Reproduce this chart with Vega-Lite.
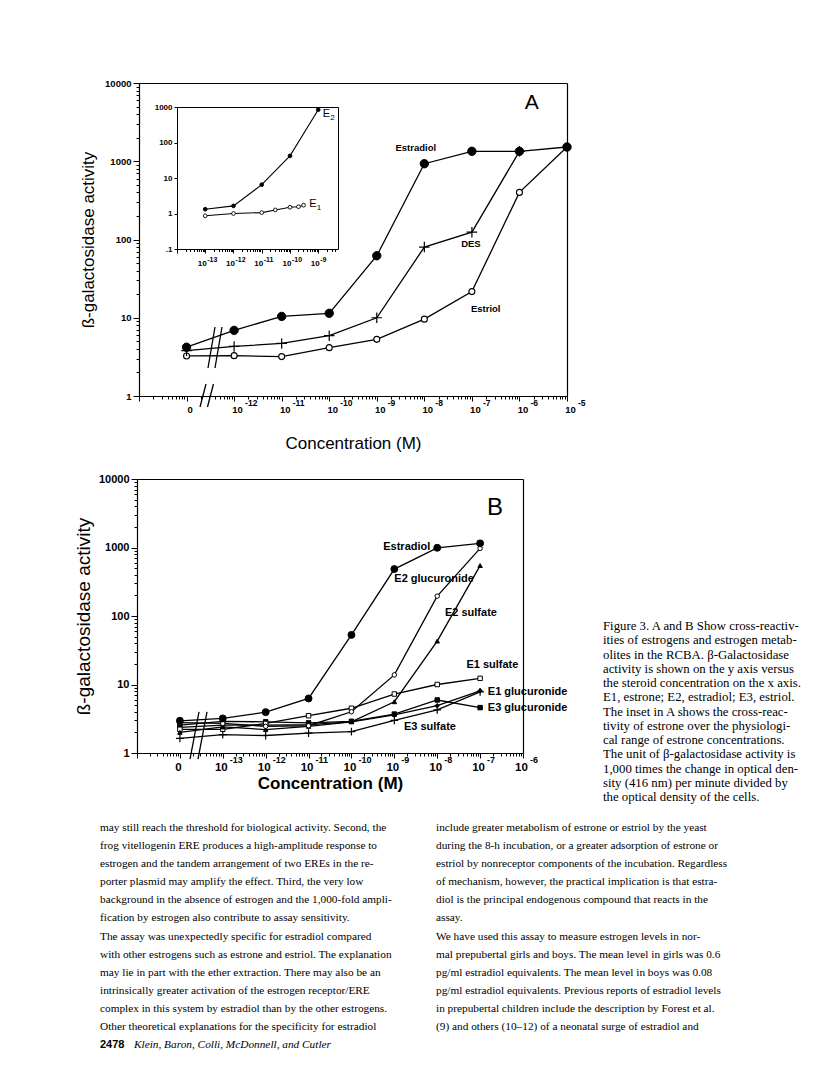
{
"$schema":"https://vega.github.io/schema/vega-lite/v6.json",
"usermeta":{"embedOptions":{"actions":false}},
"width":816,"height":1072,"autosize":"none","padding":0,"background":"white",
"config":{"view":{"stroke":null},"font":"Liberation Sans",
 "axis":{"grid":false,"domainColor":"black","tickColor":"black","labelColor":"black","titleColor":"black","labelFont":"Liberation Sans","titleFont":"Liberation Sans","labelFontWeight":"bold","titleFontWeight":"normal","domainWidth":1.2,"tickWidth":1,"labelOverlap":false,"labelBound":false,"labelFlush":false},
 "text":{"color":"black"}},
"datasets":{
 "a":[
  {"series":"Estriol","x":-13,"y":3.25},{"series":"Estriol","x":-12,"y":3.28},{"series":"Estriol","x":-11,"y":3.19},{"series":"Estriol","x":-10,"y":4.15},{"series":"Estriol","x":-9,"y":5.3},{"series":"Estriol","x":-8,"y":9.6},{"series":"Estriol","x":-7,"y":21.6},{"series":"Estriol","x":-6,"y":400},{"series":"Estriol","x":-5,"y":1520},
  {"series":"DES","x":-13,"y":3.8},{"series":"DES","x":-12,"y":4.3},{"series":"DES","x":-11,"y":4.7},{"series":"DES","x":-10,"y":5.9},{"series":"DES","x":-9,"y":10},{"series":"DES","x":-8,"y":80},{"series":"DES","x":-7,"y":124},{"series":"DES","x":-6,"y":1340},
  {"series":"Estradiol","x":-13,"y":4.2},{"series":"Estradiol","x":-12,"y":6.9},{"series":"Estradiol","x":-11,"y":10.4},{"series":"Estradiol","x":-10,"y":11.4},{"series":"Estradiol","x":-9,"y":62},{"series":"Estradiol","x":-8,"y":930},{"series":"Estradiol","x":-7,"y":1340},{"series":"Estradiol","x":-6,"y":1340},{"series":"Estradiol","x":-5,"y":1520}
 ],
 "aLabels":[{"text":"Estradiol","x":-8.18,"y":1490},{"text":"DES","x":-7.02,"y":87},{"text":"Estriol","x":-6.71,"y":12.9}],
 "aPanel":[{"text":"A","x":-5.74,"y":5500}],
 "aExp":[{"x":-12,"exp":"-12"},{"x":-11,"exp":"-11"},{"x":-10,"exp":"-10"},{"x":-9,"exp":"-9"},{"x":-8,"exp":"-8"},{"x":-7,"exp":"-7"},{"x":-6,"exp":"-6"},{"x":-5,"exp":"-5"}],
 "aBreak":[{"x1":-12.717,"y1":0.724,"x2":-12.591,"y2":1.423},{"x1":-12.56,"y1":0.724,"x2":-12.434,"y2":1.423},{"x1":-12.549,"y1":2.28,"x2":-12.402,"y2":7.62},{"x1":-12.402,"y1":2.28,"x2":-12.255,"y2":7.62}],
 "inset":[
  {"series":"E1","x":-13,"y":0.86},{"series":"E1","x":-12,"y":1.0},{"series":"E1","x":-11,"y":1.06},{"series":"E1","x":-10.52,"y":1.26},{"series":"E1","x":-10,"y":1.5},{"series":"E1","x":-9.7,"y":1.55},{"series":"E1","x":-9.52,"y":1.71},
  {"series":"E2","x":-13,"y":1.32},{"series":"E2","x":-12,"y":1.64},{"series":"E2","x":-11,"y":6.5},{"series":"E2","x":-10,"y":42},{"series":"E2","x":-9,"y":841}
 ],
 "insetLabels":[{"base":"E","sub":"2","x":-8.84,"y":635},{"base":"E","sub":"1","x":-9.32,"y":1.82}],
 "insetExp":[{"x":-13,"exp":"-13"},{"x":-12,"exp":"-12"},{"x":-11,"exp":"-11"},{"x":-10,"exp":"-10"},{"x":-9,"exp":"-9"}],
 "b":[
  {"series":"E3 sulfate","x":-14,"y":1.64},{"series":"E3 sulfate","x":-13,"y":1.85},{"series":"E3 sulfate","x":-12,"y":1.8},{"series":"E3 sulfate","x":-11,"y":1.95},{"series":"E3 sulfate","x":-10,"y":2.05},{"series":"E3 sulfate","x":-9,"y":3.0},{"series":"E3 sulfate","x":-8,"y":4.25},{"series":"E3 sulfate","x":-7,"y":7.8},
  {"series":"E3 glucuronide","x":-14,"y":2.56},{"series":"E3 glucuronide","x":-13,"y":2.9},{"series":"E3 glucuronide","x":-12,"y":2.85},{"series":"E3 glucuronide","x":-11,"y":2.75},{"series":"E3 glucuronide","x":-10,"y":2.9},{"series":"E3 glucuronide","x":-9,"y":3.7},{"series":"E3 glucuronide","x":-8,"y":5.94},{"series":"E3 glucuronide","x":-7,"y":4.6},
  {"series":"E1 glucuronide","x":-14,"y":2.37},{"series":"E1 glucuronide","x":-13,"y":2.55},{"series":"E1 glucuronide","x":-12,"y":2.55},{"series":"E1 glucuronide","x":-11,"y":2.6},{"series":"E1 glucuronide","x":-10,"y":2.85},{"series":"E1 glucuronide","x":-9,"y":3.6},{"series":"E1 glucuronide","x":-8,"y":4.9},{"series":"E1 glucuronide","x":-7,"y":8.1},
  {"series":"E1 sulfate","x":-14,"y":2.22},{"series":"E1 sulfate","x":-13,"y":2.22},{"series":"E1 sulfate","x":-12,"y":2.7},{"series":"E1 sulfate","x":-11,"y":3.5},{"series":"E1 sulfate","x":-10,"y":4.5},{"series":"E1 sulfate","x":-9,"y":7.26},{"series":"E1 sulfate","x":-8,"y":10},{"series":"E1 sulfate","x":-7,"y":12.3},
  {"series":"E2 sulfate","x":-14,"y":2.0},{"series":"E2 sulfate","x":-13,"y":2.4},{"series":"E2 sulfate","x":-12,"y":2.2},{"series":"E2 sulfate","x":-11,"y":2.45},{"series":"E2 sulfate","x":-10,"y":2.85},{"series":"E2 sulfate","x":-9,"y":5.6},{"series":"E2 sulfate","x":-8,"y":43},{"series":"E2 sulfate","x":-7,"y":545},
  {"series":"E2 glucuronide","x":-14,"y":2.77},{"series":"E2 glucuronide","x":-13,"y":2.7},{"series":"E2 glucuronide","x":-12,"y":2.45},{"series":"E2 glucuronide","x":-11,"y":2.5},{"series":"E2 glucuronide","x":-10,"y":4.0},{"series":"E2 glucuronide","x":-9,"y":13.8},{"series":"E2 glucuronide","x":-8,"y":195},{"series":"E2 glucuronide","x":-7,"y":970},
  {"series":"Estradiol","x":-14,"y":2.95},{"series":"Estradiol","x":-13,"y":3.2},{"series":"Estradiol","x":-12,"y":3.95},{"series":"Estradiol","x":-11,"y":6.25},{"series":"Estradiol","x":-10,"y":53},{"series":"Estradiol","x":-9,"y":484},{"series":"Estradiol","x":-8,"y":990},{"series":"Estradiol","x":-7,"y":1150}
 ],
 "bLabelsL":[{"text":"E2 glucuronide","x":-9.0,"y":347},{"text":"E2 sulfate","x":-7.82,"y":112},{"text":"E1 sulfate","x":-7.32,"y":19},{"text":"E1 glucuronide","x":-6.82,"y":7.9},{"text":"E3 glucuronide","x":-6.82,"y":4.6}],
 "bLabelsC":[{"text":"Estradiol","x":-8.71,"y":1010},{"text":"E3 sulfate","x":-8.17,"y":2.4}],
 "bPanel":[{"text":"B","x":-6.65,"y":3778}],
 "bExp":[{"x":-13,"exp":"-13"},{"x":-12,"exp":"-12"},{"x":-11,"exp":"-11"},{"x":-10,"exp":"-10"},{"x":-9,"exp":"-9"},{"x":-8,"exp":"-8"},{"x":-7,"exp":"-7"},{"x":-6,"exp":"-6"}],
 "bBreak":[{"x1":-13.764,"y1":0.817,"x2":-13.554,"y2":3.97},{"x1":-13.578,"y1":0.817,"x2":-13.368,"y2":3.97}],
 "caption":[
  {"col":1,"line":1,"text":"Figure 3. A and B Show cross-reactiv-"},
  {"col":1,"line":2,"text":"ities of estrogens and estrogen metab-"},
  {"col":1,"line":3,"text":"olites in the RCBA. β-Galactosidase"},
  {"col":1,"line":4,"text":"activity is shown on the y axis versus"},
  {"col":1,"line":5,"text":"the steroid concentration on the x axis."},
  {"col":1,"line":6,"text":"E1, estrone; E2, estradiol; E3, estriol."},
  {"col":1,"line":7,"text":"The inset in A shows the cross-reac-"},
  {"col":1,"line":8,"text":"tivity of estrone over the physiologi-"},
  {"col":1,"line":9,"text":"cal range of estrone concentrations."},
  {"col":1,"line":10,"text":"The unit of β-galactosidase activity is"},
  {"col":1,"line":11,"text":"1,000 times the change in optical den-"},
  {"col":1,"line":12,"text":"sity (416 nm) per minute divided by"},
  {"col":1,"line":13,"text":"the optical density of the cells."}
 ],
 "body":[
  {"col":1,"line":1,"text":"may still reach the threshold for biological activity. Second, the"},
  {"col":1,"line":2,"text":"frog vitellogenin ERE produces a high-amplitude response to"},
  {"col":1,"line":3,"text":"estrogen and the tandem arrangement of two EREs in the re-"},
  {"col":1,"line":4,"text":"porter plasmid may amplify the effect. Third, the very low"},
  {"col":1,"line":5,"text":"background in the absence of estrogen and the 1,000-fold ampli-"},
  {"col":1,"line":6,"text":"fication by estrogen also contribute to assay sensitivity."},
  {"col":1,"line":7,"text":"\u00a0\u00a0\u00a0\u00a0\u00a0The assay was unexpectedly specific for estradiol compared"},
  {"col":1,"line":8,"text":"with other estrogens such as estrone and estriol. The explanation"},
  {"col":1,"line":9,"text":"may lie in part with the ether extraction. There may also be an"},
  {"col":1,"line":10,"text":"intrinsically greater activation of the estrogen receptor/ERE"},
  {"col":1,"line":11,"text":"complex in this system by estradiol than by the other estrogens."},
  {"col":1,"line":12,"text":"Other theoretical explanations for the specificity for estradiol"},
  {"col":2,"line":1,"text":"include greater metabolism of estrone or estriol by the yeast"},
  {"col":2,"line":2,"text":"during the 8-h incubation, or a greater adsorption of estrone or"},
  {"col":2,"line":3,"text":"estriol by nonreceptor components of the incubation. Regardless"},
  {"col":2,"line":4,"text":"of mechanism, however, the practical implication is that estra-"},
  {"col":2,"line":5,"text":"diol is the principal endogenous compound that reacts in the"},
  {"col":2,"line":6,"text":"assay."},
  {"col":2,"line":7,"text":"\u00a0\u00a0\u00a0\u00a0\u00a0We have used this assay to measure estrogen levels in nor-"},
  {"col":2,"line":8,"text":"mal prepubertal girls and boys. The mean level in girls was 0.6"},
  {"col":2,"line":9,"text":"pg/ml estradiol equivalents. The mean level in boys was 0.08"},
  {"col":2,"line":10,"text":"pg/ml estradiol equivalents. Previous reports of estradiol levels"},
  {"col":2,"line":11,"text":"in prepubertal children include the description by Forest et al."},
  {"col":2,"line":12,"text":"(9) and others (10–12) of a neonatal surge of estradiol and"}
 ],
 "footer":[{"col":1,"line":13,"page":"2478","authors":"Klein, Baron, Colli, McDonnell, and Cutler"}]
},
"resolve":{"scale":{"x":"independent","y":"independent","shape":"independent","fill":"independent"}},
"layer":[
 {"data":{"name":"a"},"mark":{"type":"line","color":"black","strokeWidth":1.3},
  "encoding":{
   "detail":{"field":"series","type":"nominal"},
   "x":{"field":"x","type":"quantitative","scale":{"domain":[-14,-5],"range":[139,567],"nice":false,"zero":false},
    "axis":{"orient":"bottom","offset":-676,
     "values":[-14,-13.699,-13.523,-13.398,-13.301,-13.222,-13.155,-13.097,-13.046,-13,-12.699,-12.523,-12.398,-12.301,-12.222,-12.155,-12.097,-12.046,-12,-11.699,-11.523,-11.398,-11.301,-11.222,-11.155,-11.097,-11.046,-11,-10.699,-10.523,-10.398,-10.301,-10.222,-10.155,-10.097,-10.046,-10,-9.699,-9.523,-9.398,-9.301,-9.222,-9.155,-9.097,-9.046,-9,-8.699,-8.523,-8.398,-8.301,-8.222,-8.155,-8.097,-8.046,-8,-7.699,-7.523,-7.398,-7.301,-7.222,-7.155,-7.097,-7.046,-7,-6.699,-6.523,-6.398,-6.301,-6.222,-6.155,-6.097,-6.046,-6,-5.699,-5.523,-5.398,-5.301,-5.222,-5.155,-5.097,-5.046,-5],
     "labelExpr":"datum.value == -13 ? '0' : ((datum.value % 1 == 0 && datum.value > -13) ? '10' : '')",
     "tickSize":{"condition":{"test":"datum.value % 1 == 0","value":5},"value":3},
     "labelFontSize":9.5,"labelPadding":3,"labelOffset":3,
     "title":"Concentration (M)","titleFontSize":17,"titlePadding":22}},
   "y":{"field":"y","type":"quantitative","scale":{"type":"log","domain":[1,10000],"range":[396,83],"nice":false},
    "axis":{"orient":"left","offset":-139,
     "values":[1,2,3,4,5,6,7,8,9,10,20,30,40,50,60,70,80,90,100,200,300,400,500,600,700,800,900,1000,2000,3000,4000,5000,6000,7000,8000,9000,10000],
     "labelExpr":"(datum.value==1||datum.value==10||datum.value==100||datum.value==1000||datum.value==10000) ? format(datum.value,'d') : ''",
     "tickSize":{"condition":{"test":"datum.value==1||datum.value==10||datum.value==100||datum.value==1000||datum.value==10000","value":6},"value":3},
     "labelFontSize":9.5,"labelPadding":2,
     "title":"ß-galactosidase activity","titleFontSize":17,"titlePadding":7}}}},
 {"data":{"name":"a"},"transform":[{"filter":"datum.series === 'Estriol'"}],"mark":{"type":"point","shape":"circle","size":36,"filled":true,"fill":"white","stroke":"black","strokeWidth":1.1,"opacity":1},
  "encoding":{
   "x":{"field":"x","type":"quantitative","scale":{"domain":[-14,-5],"range":[139,567],"nice":false,"zero":false},"axis":{"orient":"top","offset":-83,"ticks":false,"labels":false,"title":null}},
   "y":{"field":"y","type":"quantitative","scale":{"type":"log","domain":[1,10000],"range":[396,83],"nice":false},"axis":{"orient":"right","offset":-249,"ticks":false,"labels":false,"title":null}}}},
 {"data":{"name":"a"},"transform":[{"filter":"datum.series === 'DES'"}],"mark":{"type":"point","shape":"M-1,0H1M0,-1V1","size":110,"filled":false,"stroke":"black","strokeWidth":1.2,"opacity":1},
  "encoding":{
   "x":{"field":"x","type":"quantitative","scale":{"domain":[-14,-5],"range":[139,567],"nice":false,"zero":false},"axis":null},
   "y":{"field":"y","type":"quantitative","scale":{"type":"log","domain":[1,10000],"range":[396,83],"nice":false},"axis":null}}},
 {"data":{"name":"a"},"transform":[{"filter":"datum.series === 'Estradiol'"}],"mark":{"type":"point","shape":"circle","size":70,"filled":true,"fill":"black","stroke":"black","strokeWidth":1,"opacity":1},
  "encoding":{
   "x":{"field":"x","type":"quantitative","scale":{"domain":[-14,-5],"range":[139,567],"nice":false,"zero":false},"axis":null},
   "y":{"field":"y","type":"quantitative","scale":{"type":"log","domain":[1,10000],"range":[396,83],"nice":false},"axis":null}}},
 {"data":{"name":"aBreak"},"mark":{"type":"rule","color":"black","strokeWidth":1.3},
  "encoding":{
   "x":{"field":"x1","type":"quantitative","scale":{"domain":[-14,-5],"range":[139,567],"nice":false,"zero":false},"axis":null},"x2":{"field":"x2"},
   "y":{"field":"y1","type":"quantitative","scale":{"type":"log","domain":[1,10000],"range":[396,83],"nice":false},"axis":null},"y2":{"field":"y2"}}},
 {"data":{"name":"aLabels"},"mark":{"type":"text","fontWeight":"bold","fontSize":9.5,"align":"center","baseline":"middle"},
  "encoding":{
   "x":{"field":"x","type":"quantitative","scale":{"domain":[-14,-5],"range":[139,567],"nice":false,"zero":false},"axis":null},
   "y":{"field":"y","type":"quantitative","scale":{"type":"log","domain":[1,10000],"range":[396,83],"nice":false},"axis":null},
   "text":{"field":"text","type":"nominal"}}},
 {"data":{"name":"aPanel"},"mark":{"type":"text","fontSize":21,"align":"center","baseline":"middle"},
  "encoding":{
   "x":{"field":"x","type":"quantitative","scale":{"domain":[-14,-5],"range":[139,567],"nice":false,"zero":false},"axis":null},
   "y":{"field":"y","type":"quantitative","scale":{"type":"log","domain":[1,10000],"range":[396,83],"nice":false},"axis":null},
   "text":{"field":"text","type":"nominal"}}},
 {"data":{"name":"aExp"},"mark":{"type":"text","fontWeight":"bold","fontSize":8.5,"align":"left","baseline":"middle","dx":11,"dy":7},
  "encoding":{
   "x":{"field":"x","type":"quantitative","scale":{"domain":[-14,-5],"range":[139,567],"nice":false,"zero":false},"axis":null},
   "y":{"datum":1,"type":"quantitative","scale":{"type":"log","domain":[1,10000],"range":[396,83],"nice":false},"axis":null},
   "text":{"field":"exp","type":"nominal"}}},

 {"data":{"name":"inset"},"mark":{"type":"line","color":"black","strokeWidth":1.1},
  "encoding":{
   "detail":{"field":"series","type":"nominal"},
   "x":{"field":"x","type":"quantitative","scale":{"domain":[-14,-8.3],"range":[177,338],"nice":false,"zero":false},
    "axis":{"orient":"bottom","offset":-823,
     "values":[-14,-13.699,-13.523,-13.398,-13.301,-13.222,-13.155,-13.097,-13.046,-13,-12.699,-12.523,-12.398,-12.301,-12.222,-12.155,-12.097,-12.046,-12,-11.699,-11.523,-11.398,-11.301,-11.222,-11.155,-11.097,-11.046,-11,-10.699,-10.523,-10.398,-10.301,-10.222,-10.155,-10.097,-10.046,-10,-9.699,-9.523,-9.398,-9.301,-9.222,-9.155,-9.097,-9.046,-9,-8.699,-8.523,-8.398],
     "labelExpr":"(datum.value % 1 == 0 && datum.value >= -13) ? '10' : ''",
     "tickSize":{"condition":{"test":"datum.value % 1 == 0","value":4},"value":2.5},
     "labelFontSize":8,"labelPadding":6,"labelAlign":"right","labelOffset":1,"domainWidth":1,"title":null}},
   "y":{"field":"y","type":"quantitative","scale":{"type":"log","domain":[0.1,1000],"range":[249,107],"nice":false},
    "axis":{"orient":"left","offset":-177,"values":[0.1,1,10,100,1000],
     "labelExpr":"datum.value == 0.1 ? '.1' : format(datum.value,'d')",
     "tickSize":3,"labelFontSize":8,"labelPadding":2,"domainWidth":1,"title":null}}}},
 {"data":{"name":"inset"},"transform":[{"filter":"datum.series === 'E1'"}],"mark":{"type":"point","shape":"circle","size":14,"filled":true,"fill":"white","stroke":"black","strokeWidth":0.9,"opacity":1},
  "encoding":{
   "x":{"field":"x","type":"quantitative","scale":{"domain":[-14,-8.3],"range":[177,338],"nice":false,"zero":false},"axis":{"orient":"top","offset":-107,"ticks":false,"labels":false,"title":null,"domainWidth":1}},
   "y":{"field":"y","type":"quantitative","scale":{"type":"log","domain":[0.1,1000],"range":[249,107],"nice":false},"axis":{"orient":"right","offset":-478,"ticks":false,"labels":false,"title":null,"domainWidth":1}}}},
 {"data":{"name":"inset"},"transform":[{"filter":"datum.series === 'E2'"}],"mark":{"type":"point","shape":"circle","size":14,"filled":true,"fill":"black","stroke":"black","strokeWidth":0.9,"opacity":1},
  "encoding":{
   "x":{"field":"x","type":"quantitative","scale":{"domain":[-14,-8.3],"range":[177,338],"nice":false,"zero":false},"axis":null},
   "y":{"field":"y","type":"quantitative","scale":{"type":"log","domain":[0.1,1000],"range":[249,107],"nice":false},"axis":null}}},
 {"data":{"name":"insetLabels"},"mark":{"type":"text","fontSize":11,"align":"left","baseline":"middle"},
  "encoding":{
   "x":{"field":"x","type":"quantitative","scale":{"domain":[-14,-8.3],"range":[177,338],"nice":false,"zero":false},"axis":null},
   "y":{"field":"y","type":"quantitative","scale":{"type":"log","domain":[0.1,1000],"range":[249,107],"nice":false},"axis":null},
   "text":{"field":"base","type":"nominal"}}},
 {"data":{"name":"insetLabels"},"mark":{"type":"text","fontSize":8,"align":"left","baseline":"middle","dx":7.5,"dy":4},
  "encoding":{
   "x":{"field":"x","type":"quantitative","scale":{"domain":[-14,-8.3],"range":[177,338],"nice":false,"zero":false},"axis":null},
   "y":{"field":"y","type":"quantitative","scale":{"type":"log","domain":[0.1,1000],"range":[249,107],"nice":false},"axis":null},
   "text":{"field":"sub","type":"nominal"}}},
 {"data":{"name":"insetExp"},"mark":{"type":"text","fontWeight":"bold","fontSize":7,"align":"left","baseline":"middle","dx":2,"dy":11},
  "encoding":{
   "x":{"field":"x","type":"quantitative","scale":{"domain":[-14,-8.3],"range":[177,338],"nice":false,"zero":false},"axis":null},
   "y":{"datum":0.1,"type":"quantitative","scale":{"type":"log","domain":[0.1,1000],"range":[249,107],"nice":false},"axis":null},
   "text":{"field":"exp","type":"nominal"}}},

 {"data":{"name":"b"},"mark":{"type":"line","color":"black","strokeWidth":1.3},
  "encoding":{
   "detail":{"field":"series","type":"nominal"},
   "x":{"field":"x","type":"quantitative","scale":{"domain":[-15,-6],"range":[137,523],"nice":false,"zero":false},
    "axis":{"orient":"bottom","offset":-319,
     "values":[-15,-14.699,-14.523,-14.398,-14.301,-14.222,-14.155,-14.097,-14.046,-14,-13.699,-13.523,-13.398,-13.301,-13.222,-13.155,-13.097,-13.046,-13,-12.699,-12.523,-12.398,-12.301,-12.222,-12.155,-12.097,-12.046,-12,-11.699,-11.523,-11.398,-11.301,-11.222,-11.155,-11.097,-11.046,-11,-10.699,-10.523,-10.398,-10.301,-10.222,-10.155,-10.097,-10.046,-10,-9.699,-9.523,-9.398,-9.301,-9.222,-9.155,-9.097,-9.046,-9,-8.699,-8.523,-8.398,-8.301,-8.222,-8.155,-8.097,-8.046,-8,-7.699,-7.523,-7.398,-7.301,-7.222,-7.155,-7.097,-7.046,-7,-6.699,-6.523,-6.398,-6.301,-6.222,-6.155,-6.097,-6.046,-6],
     "labelExpr":"datum.value == -14 ? '0' : ((datum.value % 1 == 0 && datum.value > -14) ? '10' : '')",
     "tickSize":{"condition":{"test":"datum.value % 1 == 0","value":5},"value":3},
     "labelFontSize":11.5,"labelPadding":3,"labelOffset":-2,
     "title":"Concentration (M)","titleFontSize":17,"titleFontWeight":"bold","titlePadding":3}},
   "y":{"field":"y","type":"quantitative","scale":{"type":"log","domain":[1,10000],"range":[753,479],"nice":false},
    "axis":{"orient":"left","offset":-137,
     "values":[1,2,3,4,5,6,7,8,9,10,20,30,40,50,60,70,80,90,100,200,300,400,500,600,700,800,900,1000,2000,3000,4000,5000,6000,7000,8000,9000,10000],
     "labelExpr":"(datum.value==1||datum.value==10||datum.value==100||datum.value==1000||datum.value==10000) ? format(datum.value,'d') : ''",
     "tickSize":{"condition":{"test":"datum.value==1||datum.value==10||datum.value==100||datum.value==1000||datum.value==10000","value":6},"value":3},
     "labelFontSize":11,"labelPadding":2,
     "title":"ß-galactosidase activity","titleFontSize":19,"titlePadding":5}}}},
 {"data":{"name":"b"},"transform":[{"filter":"datum.series !== 'Estradiol' && datum.series !== 'E3 sulfate'"}],
  "mark":{"type":"point","size":20,"filled":true,"stroke":"black","strokeWidth":1,"opacity":1},
  "encoding":{
   "x":{"field":"x","type":"quantitative","scale":{"domain":[-15,-6],"range":[137,523],"nice":false,"zero":false},"axis":{"orient":"top","offset":-479,"ticks":false,"labels":false,"title":null}},
   "y":{"field":"y","type":"quantitative","scale":{"type":"log","domain":[1,10000],"range":[753,479],"nice":false},"axis":{"orient":"right","offset":-293,"ticks":false,"labels":false,"title":null}},
   "shape":{"field":"series","type":"nominal","scale":{"domain":["E2 glucuronide","E2 sulfate","E1 sulfate","E1 glucuronide","E3 glucuronide"],"range":["circle","triangle-up","square","diamond","square"]},"legend":null},
   "fill":{"field":"series","type":"nominal","scale":{"domain":["E2 glucuronide","E2 sulfate","E1 sulfate","E1 glucuronide","E3 glucuronide"],"range":["white","black","white","black","black"]},"legend":null}}},
 {"data":{"name":"b"},"transform":[{"filter":"datum.series === 'E3 sulfate'"}],"mark":{"type":"point","shape":"M-1,0H1M0,-1V1","size":60,"filled":false,"stroke":"black","strokeWidth":1.2,"opacity":1},
  "encoding":{
   "x":{"field":"x","type":"quantitative","scale":{"domain":[-15,-6],"range":[137,523],"nice":false,"zero":false},"axis":null},
   "y":{"field":"y","type":"quantitative","scale":{"type":"log","domain":[1,10000],"range":[753,479],"nice":false},"axis":null}}},
 {"data":{"name":"b"},"transform":[{"filter":"datum.series === 'Estradiol'"}],"mark":{"type":"point","shape":"circle","size":48,"filled":true,"fill":"black","stroke":"black","strokeWidth":1,"opacity":1},
  "encoding":{
   "x":{"field":"x","type":"quantitative","scale":{"domain":[-15,-6],"range":[137,523],"nice":false,"zero":false},"axis":null},
   "y":{"field":"y","type":"quantitative","scale":{"type":"log","domain":[1,10000],"range":[753,479],"nice":false},"axis":null}}},
 {"data":{"name":"bBreak"},"mark":{"type":"rule","color":"black","strokeWidth":1.3},
  "encoding":{
   "x":{"field":"x1","type":"quantitative","scale":{"domain":[-15,-6],"range":[137,523],"nice":false,"zero":false},"axis":null},"x2":{"field":"x2"},
   "y":{"field":"y1","type":"quantitative","scale":{"type":"log","domain":[1,10000],"range":[753,479],"nice":false},"axis":null},"y2":{"field":"y2"}}},
 {"data":{"name":"bLabelsL"},"mark":{"type":"text","fontWeight":"bold","fontSize":11,"align":"left","baseline":"middle"},
  "encoding":{
   "x":{"field":"x","type":"quantitative","scale":{"domain":[-15,-6],"range":[137,523],"nice":false,"zero":false},"axis":null},
   "y":{"field":"y","type":"quantitative","scale":{"type":"log","domain":[1,10000],"range":[753,479],"nice":false},"axis":null},
   "text":{"field":"text","type":"nominal"}}},
 {"data":{"name":"bLabelsC"},"mark":{"type":"text","fontWeight":"bold","fontSize":11,"align":"center","baseline":"middle"},
  "encoding":{
   "x":{"field":"x","type":"quantitative","scale":{"domain":[-15,-6],"range":[137,523],"nice":false,"zero":false},"axis":null},
   "y":{"field":"y","type":"quantitative","scale":{"type":"log","domain":[1,10000],"range":[753,479],"nice":false},"axis":null},
   "text":{"field":"text","type":"nominal"}}},
 {"data":{"name":"bPanel"},"mark":{"type":"text","fontSize":24,"align":"center","baseline":"middle"},
  "encoding":{
   "x":{"field":"x","type":"quantitative","scale":{"domain":[-15,-6],"range":[137,523],"nice":false,"zero":false},"axis":null},
   "y":{"field":"y","type":"quantitative","scale":{"type":"log","domain":[1,10000],"range":[753,479],"nice":false},"axis":null},
   "text":{"field":"text","type":"nominal"}}},
 {"data":{"name":"bExp"},"mark":{"type":"text","fontWeight":"bold","fontSize":9,"align":"left","baseline":"middle","dx":7,"dy":7},
  "encoding":{
   "x":{"field":"x","type":"quantitative","scale":{"domain":[-15,-6],"range":[137,523],"nice":false,"zero":false},"axis":null},
   "y":{"datum":1,"type":"quantitative","scale":{"type":"log","domain":[1,10000],"range":[753,479],"nice":false},"axis":null},
   "text":{"field":"exp","type":"nominal"}}},

 {"data":{"name":"body"},"mark":{"type":"text","font":"Liberation Serif","fontSize":11.3,"align":"left","baseline":"middle"},
  "encoding":{
   "x":{"field":"col","type":"quantitative","scale":{"domain":[1,2],"range":[100,436],"nice":false,"zero":false},"axis":null},
   "y":{"field":"line","type":"quantitative","scale":{"domain":[1,12],"range":[828,1027],"nice":false,"zero":false},"axis":null},
   "text":{"field":"text","type":"nominal"}}},
 {"data":{"name":"footer"},"mark":{"type":"text","font":"Liberation Sans","fontWeight":"bold","fontSize":11,"align":"left","baseline":"middle"},
  "encoding":{
   "x":{"field":"col","type":"quantitative","scale":{"domain":[1,2],"range":[100,436],"nice":false,"zero":false},"axis":null},
   "y":{"field":"line","type":"quantitative","scale":{"domain":[1,12],"range":[828,1027],"nice":false,"zero":false},"axis":null},
   "text":{"field":"page","type":"nominal"}}},
 {"data":{"name":"footer"},"mark":{"type":"text","font":"Liberation Serif","fontStyle":"italic","fontSize":11.3,"align":"left","baseline":"middle","dx":34},
  "encoding":{
   "x":{"field":"col","type":"quantitative","scale":{"domain":[1,2],"range":[100,436],"nice":false,"zero":false},"axis":null},
   "y":{"field":"line","type":"quantitative","scale":{"domain":[1,12],"range":[828,1027],"nice":false,"zero":false},"axis":null},
   "text":{"field":"authors","type":"nominal"}}},
 {"data":{"name":"caption"},"mark":{"type":"text","font":"Liberation Serif","fontSize":12.8,"align":"left","baseline":"middle"},
  "encoding":{
   "x":{"field":"col","type":"quantitative","scale":{"domain":[1,2],"range":[603,806],"nice":false,"zero":false},"axis":null},
   "y":{"field":"line","type":"quantitative","scale":{"domain":[1,13],"range":[626,797],"nice":false,"zero":false},"axis":null},
   "text":{"field":"text","type":"nominal"}}}
]
}
